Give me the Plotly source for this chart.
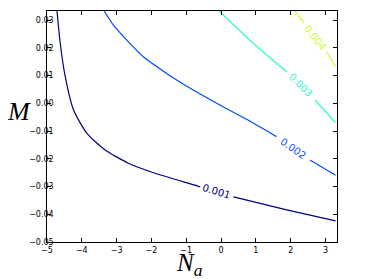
import math
import plotly.graph_objects as go

# Contour levels and colours
levels = ["0.001", "0.002", "0.003", "0.004"]
colors = ["#000080", "#004cff", "#29ffce", "#ceff29"]

# Contour line points (Na, M); gap index = where the label sits
na_001 = [-4.713, -4.619, -4.476, -4.238, -3.854, -3.330, -2.662, -1.897, -0.751, -0.599, 0.358, 1.885, 3.289]
m_001 = [0.0333, 0.0216, 0.0096, -0.0024, -0.0108, -0.0168, -0.0216, -0.0252, -0.0295, -0.0301, -0.0337, -0.0384, -0.0424]
gap_001 = 10

na_002 = [-3.358, -3.092, -2.708, -2.232, -1.562, -0.799, -0.034, 0.825, 1.590, 2.553, 3.289]
m_002 = [0.0333, 0.0282, 0.0228, 0.0168, 0.0108, 0.0048, -0.0006, -0.0064, -0.0120, -0.0204, -0.0259]
gap_002 = 9

na_003 = [-0.054, 0.931, 1.885, 2.696, 3.289]
m_003 = [0.0333, 0.0216, 0.0114, 0.0012, -0.0069]
gap_003 = 3

na_004 = [2.123, 2.381, 3.031, 3.289]
m_004 = [0.0333, 0.0289, 0.0186, 0.0132]
gap_004 = 2

x_ticks = [-5, -4, -3, -2, -1, 0, 1, 2, 3]
y_ticks = [-0.05, -0.04, -0.03, -0.02, -0.01, 0.00, 0.01, 0.02, 0.03]
x_range = [-5, 3.33]
y_range = [-0.05, 0.0333]

# the page body has an 8px margin: size the figure so the frame lands where it should
PAGE = 8
W, H = 374 - PAGE, 279 - PAGE
F_L, F_R, F_T, F_B = 47, 337, 11, 242          # frame edges in window pixels
ml, mt = F_L - PAGE, F_T - PAGE
mr, mb = W - (F_R - PAGE), H - (F_B - PAGE)
pw, ph = F_R - F_L, F_B - F_T
kx = pw / (x_range[1] - x_range[0])
ky = ph / (y_range[1] - y_range[0])


def paper_x(px):
    return (px - F_L) / pw


def paper_y(py):
    return 1 - (py - F_T) / ph


fig = go.Figure()
annotations = []
series = [(na_001, m_001, gap_001), (na_002, m_002, gap_002),
          (na_003, m_003, gap_003), (na_004, m_004, gap_004)]
for (xs, ys, g), lev, col in zip(series, levels, colors):
    for seg_x, seg_y in ((xs[:g], ys[:g]), (xs[g:], ys[g:])):
        fig.add_trace(go.Scatter(x=seg_x, y=seg_y, mode="lines",
                                 line=dict(color=col, width=1.2, shape="spline", smoothing=0.6),
                                 hoverinfo="skip", showlegend=False))
    x0, y0, x1, y1 = xs[g - 1], ys[g - 1], xs[g], ys[g]
    ang = math.degrees(math.atan2(-(y1 - y0) * ky, (x1 - x0) * kx))
    annotations.append(dict(x=(x0 + x1) / 2, y=(y0 + y1) / 2, xref="x", yref="y",
                            text=lev, showarrow=False, textangle=ang,
                            xanchor="center", yanchor="middle",
                            font=dict(family="DejaVu Sans", size=10, color=col)))

# invisible trace so the tick-only overlay axes are drawn
fig.add_trace(go.Scatter(x=[x_range[0]], y=[y_range[0]], xaxis="x2", yaxis="y2",
                         mode="markers", marker=dict(opacity=0), hoverinfo="skip",
                         showlegend=False))

annotations.append(dict(x=paper_x(19), y=paper_y(112), xref="paper", yref="paper",
                        text="<i>M</i>", showarrow=False, xanchor="center", yanchor="middle",
                        font=dict(family="Liberation Serif", size=26, color="black")))
annotations.append(dict(x=paper_x(189), y=paper_y(282), xref="paper", yref="paper",
                        text="<i>N</i><sub><i>a</i></sub>", showarrow=False,
                        xanchor="center", yanchor="bottom",
                        font=dict(family="Liberation Serif", size=25, color="black")))

tick_font = dict(family="DejaVu Sans", size=8, color="black")
tick_axis = dict(showgrid=False, zeroline=False, showline=True, linecolor="black",
                 linewidth=1, showticklabels=False,
                 ticks="inside", ticklen=4, tickwidth=0.8, tickcolor="black",
                 mirror="allticks")

fig.update_layout(
    width=W, height=H,
    margin=dict(l=ml, r=mr, t=mt, b=mb),
    paper_bgcolor="white", plot_bgcolor="white",
    xaxis=dict(range=x_range, tickvals=x_ticks, showgrid=False, zeroline=False,
               showline=True, linecolor="black", linewidth=1, mirror=True, ticks="",
               tickfont=tick_font),
    # label-only y axis nudged right so its labels sit close to the frame
    yaxis=dict(range=y_range, tickvals=y_ticks, tickformat=".2f", showgrid=False,
               zeroline=False, showline=False, ticks="", anchor="free", position=0.023,
               tickfont=tick_font),
    xaxis2=dict(range=x_range, tickvals=x_ticks, overlaying="x", anchor="y2", **tick_axis),
    yaxis2=dict(range=y_range, tickvals=y_ticks, overlaying="y", anchor="x2", **tick_axis),
    annotations=annotations,
)
fig.write_html("out.html")
